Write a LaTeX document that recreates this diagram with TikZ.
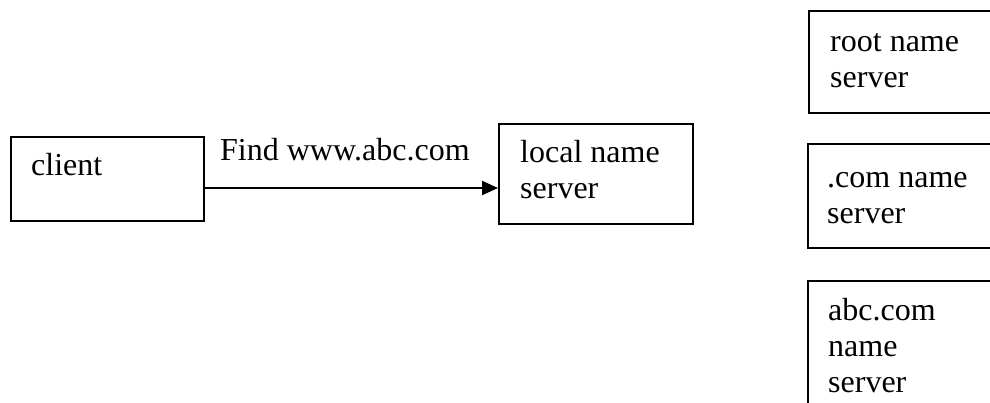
\documentclass[tikz,border=0pt]{standalone}
\usepackage{fontspec}
\setmainfont{Liberation Serif}
\usetikzlibrary{arrows.meta}
\begin{document}
\begin{tikzpicture}[x=1pt,y=-1pt,
  box/.style={draw=black, line width=2.2pt, rectangle, inner sep=0pt, anchor=north west},
  lbl/.style={anchor=base west, inner sep=0pt, align=left,
    font=\fontsize{32}{36}\selectfont},
  flow/.style={draw=black, line width=2.2pt, -{Triangle[length=16pt,width=14pt]}}]
\useasboundingbox (0,0) rectangle (990,402);
\clip (0,0) rectangle (990,402);

% client and local resolver (label anchors sit on the last line's baseline)
\node[box, minimum width=193pt, minimum height=84pt] (client) at (10,136) {};
\node[lbl] (clientText) at (31,175) {client};
\node[box, minimum width=194pt, minimum height=100pt] (local) at (498,123) {};
\node[lbl] (localText) at (520,198) {local name\\server};

% query arrow
\draw[flow] (client.east |- 0,188) -- (local.west |- 0,188);
\node[lbl] (query) at (220,160) {Find www.abc.com};

% server hierarchy (boxes run past the right edge)
\node[box, minimum width=220pt, minimum height=102pt] (root) at (808,10) {};
\node[lbl] (rootText) at (830,87) {root name\\server};
\node[box, minimum width=220pt, minimum height=104pt] (com) at (807,143) {};
\node[lbl] (comText) at (827,223) {.com name\\server};
\node[box, minimum width=220pt, minimum height=160pt] (abc) at (807,280) {};
\node[lbl] (abcText) at (828,392) {abc.com\\name\\server};
\end{tikzpicture}
\end{document}
